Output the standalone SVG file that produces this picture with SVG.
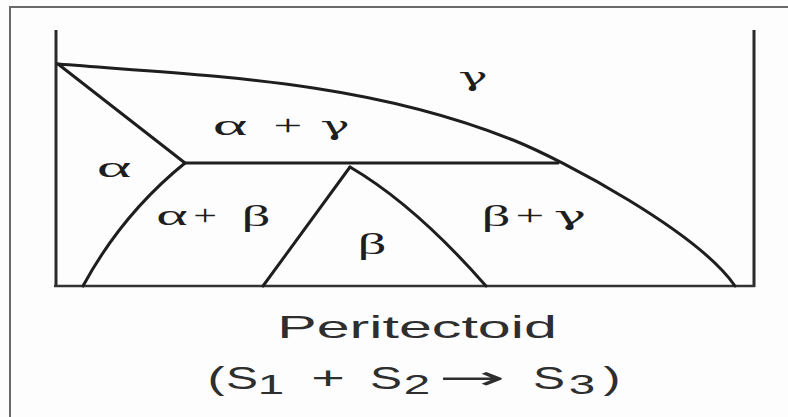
<svg xmlns="http://www.w3.org/2000/svg" width="788" height="417" viewBox="0 0 788 417">
<style>
.ln{fill:none;stroke:#1e1e1e;stroke-width:3;stroke-linecap:round;stroke-linejoin:round}
.ax{fill:none;stroke:#2a2a2a;stroke-width:3}
.g{font-family:"Liberation Serif","Times New Roman",serif;font-size:30px;fill:#1e1e1e;text-anchor:middle}
.gy{font-family:"DejaVu Serif","Liberation Serif",serif;font-size:26px;fill:#1e1e1e;text-anchor:middle}
.c{font-family:"Liberation Sans",Arial,sans-serif;font-size:32px;fill:#2e2e2e;text-anchor:middle}
.s{font-family:"Liberation Sans",Arial,sans-serif;font-size:28px;fill:#2e2e2e;text-anchor:middle}
.ar{font-family:"DejaVu Sans","Liberation Sans",sans-serif;font-size:32px;fill:#2e2e2e;text-anchor:middle}
</style>
<rect x="0" y="0" width="788" height="417" fill="#fdfdfd"/>
<rect x="10" y="7" width="800" height="440" fill="none" stroke="#6a6a6a" stroke-width="2"/>
<g id="axes">
<line class="ax" x1="56" y1="30" x2="56" y2="287"/>
<line class="ax" x1="754" y1="30" x2="754" y2="287"/>
<line x1="54" y1="286" x2="755" y2="286" stroke="#333" stroke-width="2.5"/>
</g>
<g id="connectors">
<path class="ln" d="M58,64 C208,76 363,80 513,140 C563,160 698,232 735,286"/>
<path class="ln" d="M58,64 L185,163"/>
<path class="ln" d="M185,163 L558,163"/>
<path class="ln" d="M185,163 Q122,214 83,286"/>
<path class="ln" d="M350,167 L263,286"/>
<path class="ln" d="M350,167 Q415,205 486,286"/>
</g>
<g id="gamma">
<text class="gy" transform="translate(473,86) scale(1.9,1)">γ</text>
</g>
<g id="alpha-gamma">
<text class="g" transform="translate(230,135) scale(2.2,1)">α</text>
<text class="g" transform="translate(288,135) scale(1.7,1)">+</text>
<text class="gy" transform="translate(335,135) scale(1.9,1)">γ</text>
</g>
<g id="alpha">
<text class="g" transform="translate(114,177) scale(2.2,1)">α</text>
</g>
<g id="alpha-beta">
<text class="g" transform="translate(172,225) scale(2,1)">α</text>
<text class="g" transform="translate(205,225) scale(1.4,1)">+</text>
<text class="g" transform="translate(256,226) scale(1.9,1)">β</text>
</g>
<g id="beta">
<text class="g" transform="translate(372,254) scale(1.9,1)">β</text>
</g>
<g id="beta-gamma">
<text class="g" transform="translate(496,226) scale(1.9,1)">β</text>
<text class="g" transform="translate(530,225) scale(1.7,1)">+</text>
<text class="gy" transform="translate(570,225) scale(2.1,1)">γ</text>
</g>
<g id="caption">
<text class="c" transform="translate(417,338) scale(1.85,1)">Peritectoid</text>
<text class="c" transform="translate(216,389) scale(1.6,1)">(</text>
<text class="c" transform="translate(242,389) scale(1.5,1)">S</text>
<text class="s" transform="translate(271,394) scale(1.7,1)">1</text>
<text class="c" transform="translate(328,389) scale(1.8,1)">+</text>
<text class="c" transform="translate(386,389) scale(1.5,1)">S</text>
<text class="s" transform="translate(417,394) scale(1.7,1)">2</text>
<text class="ar" transform="translate(472,389) scale(2.5,1)">→</text>
<text class="c" transform="translate(549,389) scale(1.5,1)">S</text>
<text class="s" transform="translate(582,394) scale(1.7,1)">3</text>
<text class="c" transform="translate(612,389) scale(1.6,1)">)</text>
</g>
</svg>
